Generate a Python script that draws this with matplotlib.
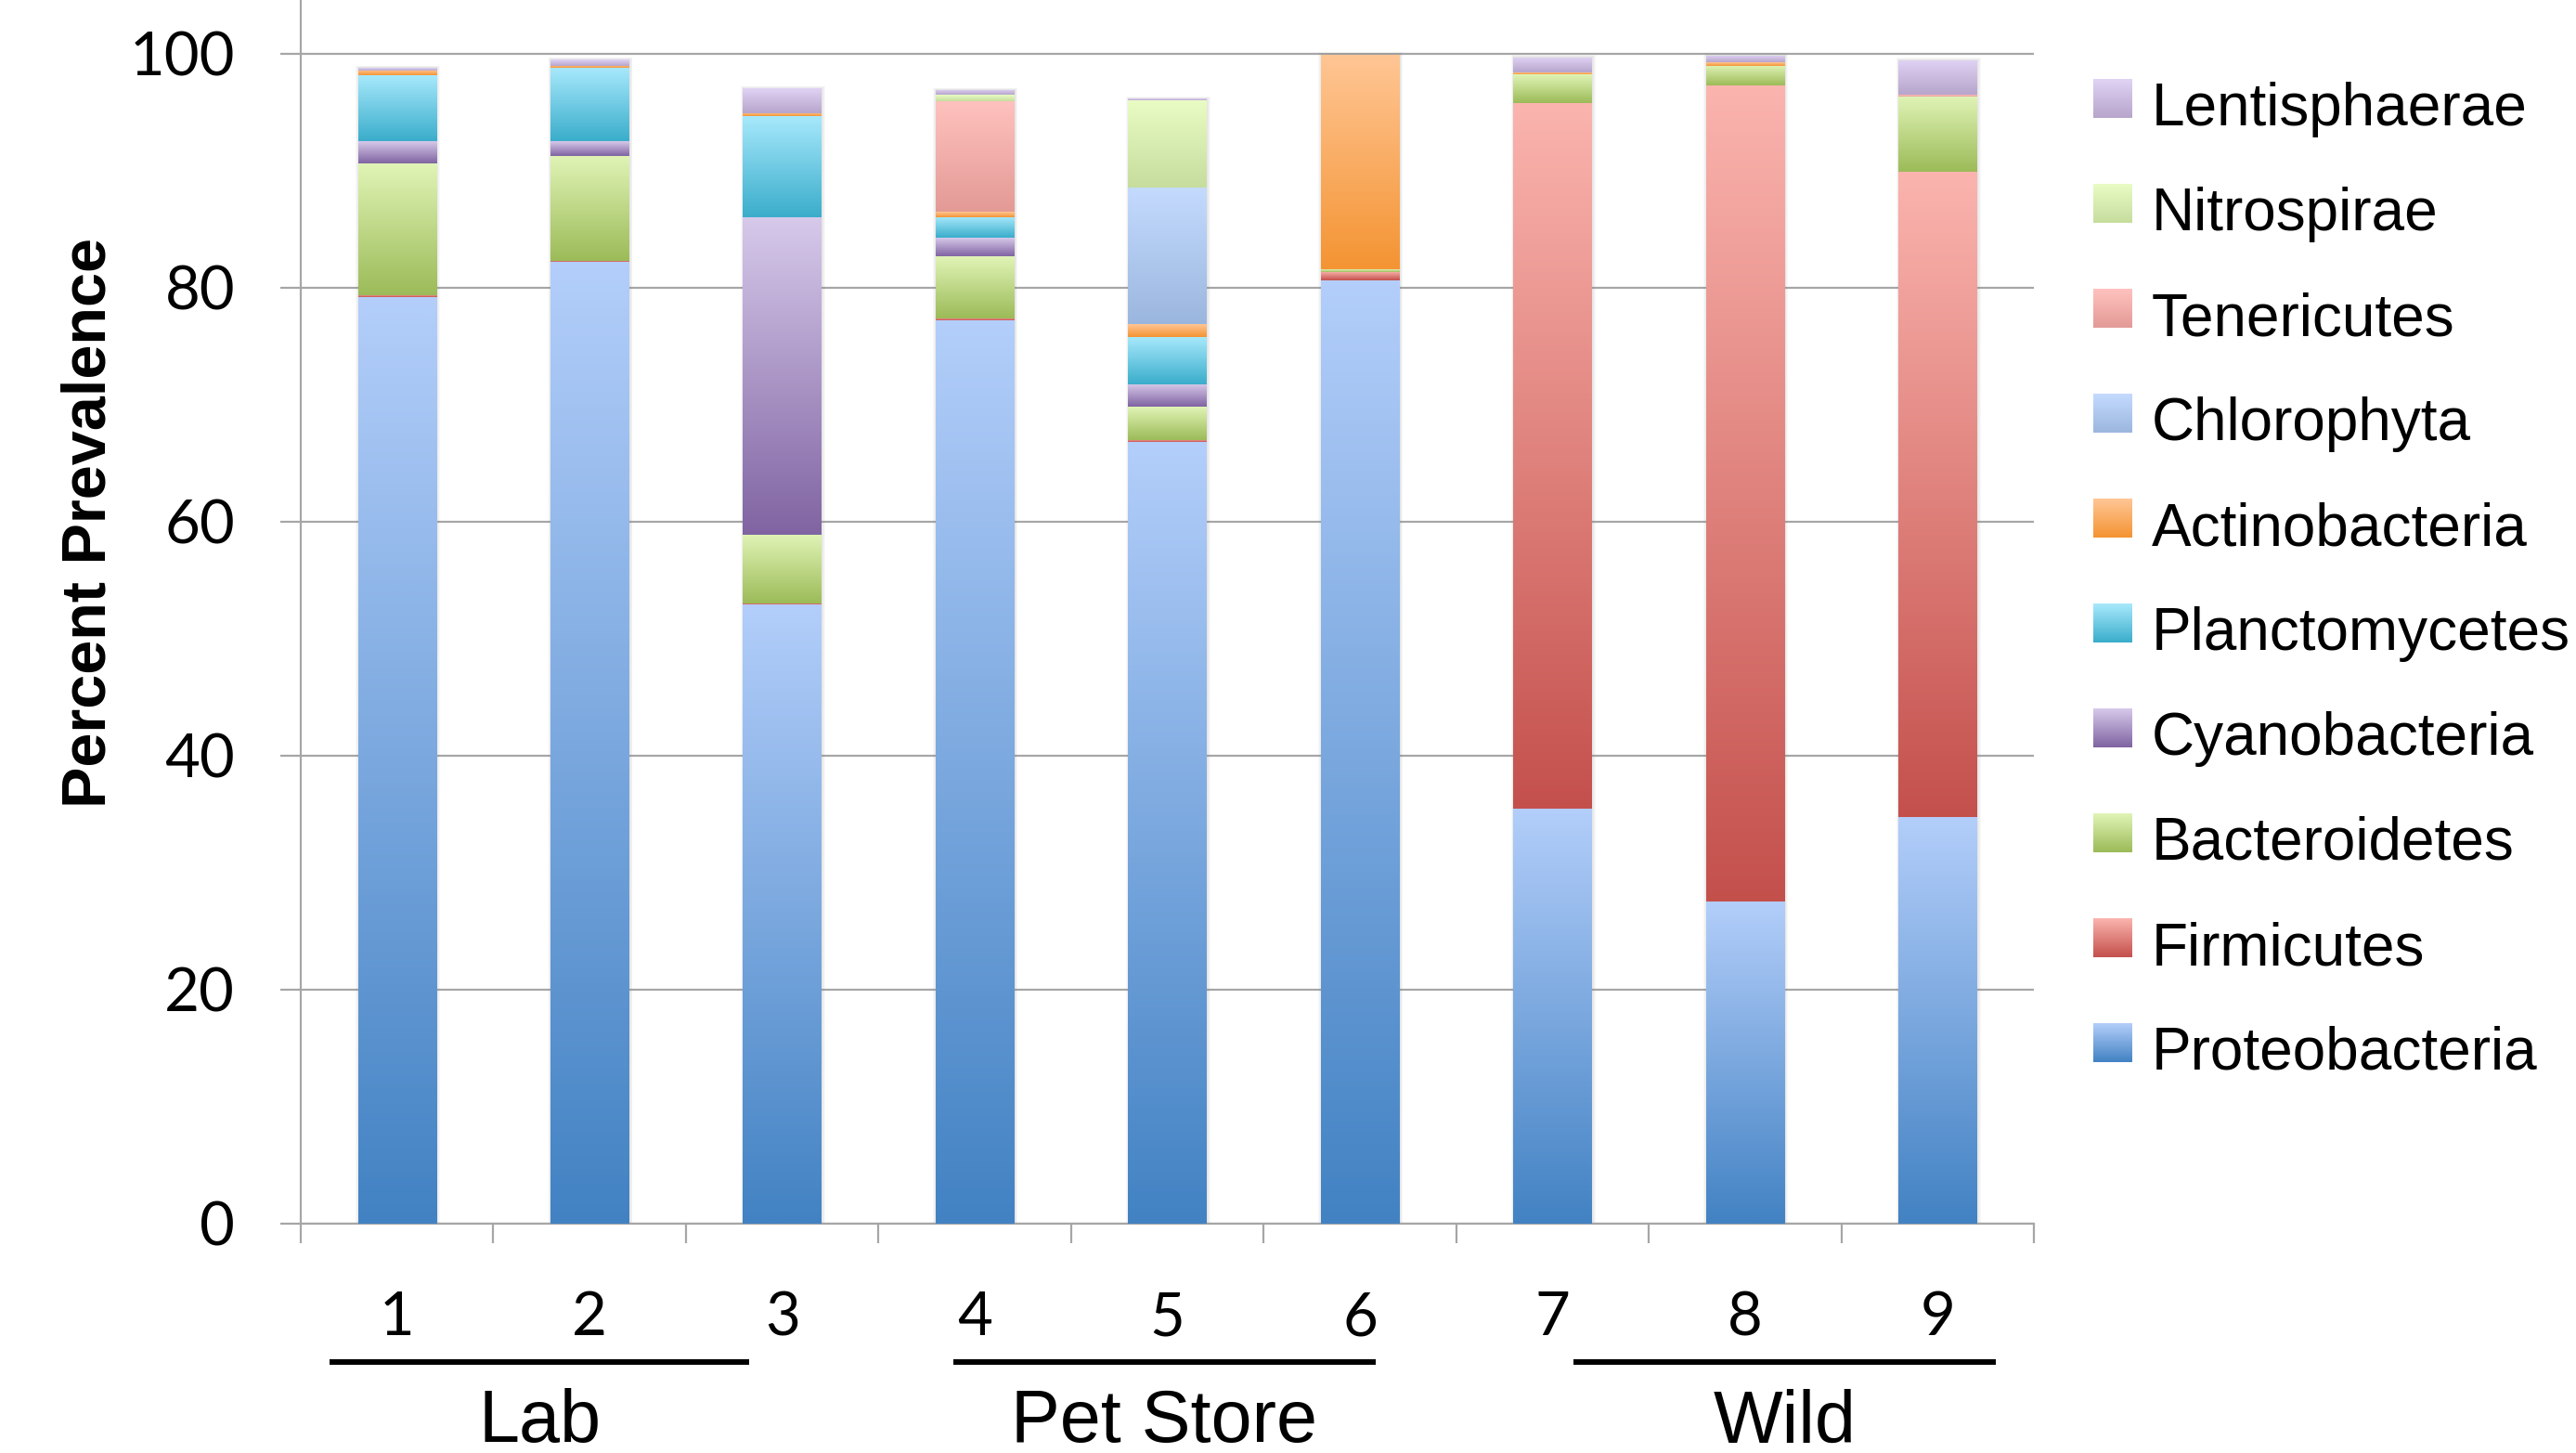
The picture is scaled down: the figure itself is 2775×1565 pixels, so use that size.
import numpy as np
import matplotlib
matplotlib.use('Agg')
import matplotlib.pyplot as plt
from matplotlib.colors import LinearSegmentedColormap

# sample numbers and their source groups
samples = ['1', '2', '3', '4', '5', '6', '7', '8', '9']
groups = ['Lab', 'Pet Store', 'Wild']

# percent prevalence per phylum, bottom of stack first
phyla = ['Proteobacteria', 'Firmicutes', 'Bacteroidetes', 'Cyanobacteria', 'Planctomycetes',
         'Actinobacteria', 'Chlorophyta', 'Tenericutes', 'Nitrospirae', 'Lentisphaerae']
proteobacteria = [79.2, 82.2, 52.9, 77.2, 66.8, 80.6, 35.5, 27.5, 34.8]
firmicutes     = [0.2, 0.1, 0.1, 0.2, 0.2, 0.75, 60.3, 69.8, 55.1]
bacteroidetes  = [11.2, 9.0, 5.9, 5.3, 2.8, 0.2, 2.45, 1.7, 6.45]
cyanobacteria  = [1.9, 1.2, 27.1, 1.55, 1.95, 0, 0, 0, 0]
planctomycetes = [5.7, 6.3, 8.7, 1.8, 4.05, 0, 0, 0, 0]
actinobacteria = [0.4, 0.2, 0.25, 0.45, 1.1, 18.4, 0.15, 0.25, 0]
chlorophyta    = [0, 0, 0, 0, 11.7, 0, 0, 0, 0]
tenericutes    = [0, 0, 0, 9.45, 0, 0, 0, 0, 0.15]
nitrospirae    = [0, 0, 0, 0.55, 7.4, 0, 0, 0, 0]
lentisphaerae  = [0.2, 0.5, 2.1, 0.4, 0.15, 0, 1.3, 0.6, 2.95]

series = [proteobacteria, firmicutes, bacteroidetes, cyanobacteria, planctomycetes,
          actinobacteria, chlorophyta, tenericutes, nitrospirae, lentisphaerae]

# (top, bottom) gradient colours for each phylum
shades = [('#b3cefa', '#4282c3'), ('#fbb4ae', '#c4504c'), ('#e0f4b6', '#9cbb58'),
          ('#d6c9ea', '#8064a2'), ('#a8e9fc', '#3aadcb'), ('#ffc695', '#f49433'),
          ('#c4dbfe', '#9bb6de'), ('#ffc2be', '#e39a96'), ('#e9fcc4', '#c6dd9e'),
          ('#e0d3f4', '#b7a5cb')]

# group spans along the category axis
group_spans = [(-0.35, 1.83), (2.89, 5.08), (6.11, 8.30)]

GRID = '#a6a6a6'
SANS = ['Liberation Sans', 'DejaVu Sans']


def gradient(top, bottom):
    return LinearSegmentedColormap.from_list('g', [bottom, top])


def fill_gradient(axis, rect, top, bottom):
    x0, y0 = rect.get_x(), rect.get_y()
    w, h = rect.get_width(), rect.get_height()
    grad = np.linspace(0, 1, 256).reshape(-1, 1)
    im = axis.imshow(grad, cmap=gradient(top, bottom), extent=(x0, x0 + w, y0, y0 + h),
                     origin='lower', aspect='auto', interpolation='bilinear',
                     zorder=rect.get_zorder())
    im.set_clip_path(rect)


fig = plt.figure(figsize=(27.75, 15.65), dpi=100)
ax = fig.add_axes([324 / 2775, 247 / 1565, (2191 - 324) / 2775, 1318 / 1565])

x = np.arange(len(samples))
width = 0.406

# soft shadow behind each column
totals = np.sum(series, axis=0)
for k in range(1, 5):
    ax.bar(x + 0.004, totals + 0.15 * k, width=width + 0.008 * k, bottom=-0.1 * k,
           color='#808080', alpha=0.05, linewidth=0, zorder=2)

bottom = np.zeros(len(samples))
for vals, (top, bot) in zip(series, shades):
    vals = np.array(vals, dtype=float)
    bars = ax.bar(x, vals, width=width, bottom=bottom, color=bot, linewidth=0, zorder=3)
    for rect, v in zip(bars, vals):
        if v > 0:
            fill_gradient(ax, rect, top, bot)
    bottom += vals

ax.set_xlim(-0.5, len(samples) - 0.5)
ax.set_ylim(0, 104.6)

ax.set_yticks(np.arange(0, 101, 20))
ax.yaxis.grid(True, color=GRID, linewidth=1.6, zorder=0)
ax.set_axisbelow(True)
ax.tick_params(axis='y', length=16, width=1.6, color=GRID, pad=35, labelsize=47)

ax.set_xticks(x)
ax.set_xticklabels(samples)
ax.set_xticks(np.arange(-0.5, len(samples)), minor=True)
ax.tick_params(axis='x', which='major', length=0, pad=52, labelsize=47)
ax.tick_params(axis='x', which='minor', length=15, width=1.6, color=GRID)
for lbl in ax.get_xticklabels() + ax.get_yticklabels():
    lbl.set_family(['Lato', 'DejaVu Sans'])

for side in ['top', 'right']:
    ax.spines[side].set_visible(False)
for side in ['left', 'bottom']:
    ax.spines[side].set_color(GRID)
    ax.spines[side].set_linewidth(1.6)

# group brackets under the sample numbers
trans = ax.get_xaxis_transform()
for name, (a, b) in zip(groups, group_spans):
    ax.plot([a, b], [-0.113, -0.113], transform=trans, color='black', lw=4.3,
            solid_capstyle='butt', clip_on=False)
    ax.text((a + b) / 2, -0.163, name, transform=trans, ha='center', va='center',
            fontsize=57, family=SANS)

fig.text(97 / 2775, 1 - 563 / 1565, 'Percent Prevalence', rotation=90, ha='center',
         va='center', fontsize=48, fontweight='bold', family=SANS)

# legend, top entry is the top of the stack
lax = fig.add_axes([0, 0, 1, 1], zorder=5)
lax.set_xlim(0, 2775)
lax.set_ylim(1565, 0)
lax.axis('off')
for i, (name, (top, bot)) in enumerate(zip(phyla[::-1], shades[::-1])):
    cy = 106 + 113 * i
    grad = np.linspace(0, 1, 64).reshape(-1, 1)
    lax.imshow(grad, cmap=gradient(top, bot), extent=(2255, 2297, cy + 21, cy - 21),
               origin='lower', aspect='auto', interpolation='bilinear')
    lax.text(2318, cy + 29, name, ha='left', va='baseline', fontsize=46, family=SANS)
lax.set_xlim(0, 2775)
lax.set_ylim(1565, 0)

fig.savefig('out.png', dpi=100)
